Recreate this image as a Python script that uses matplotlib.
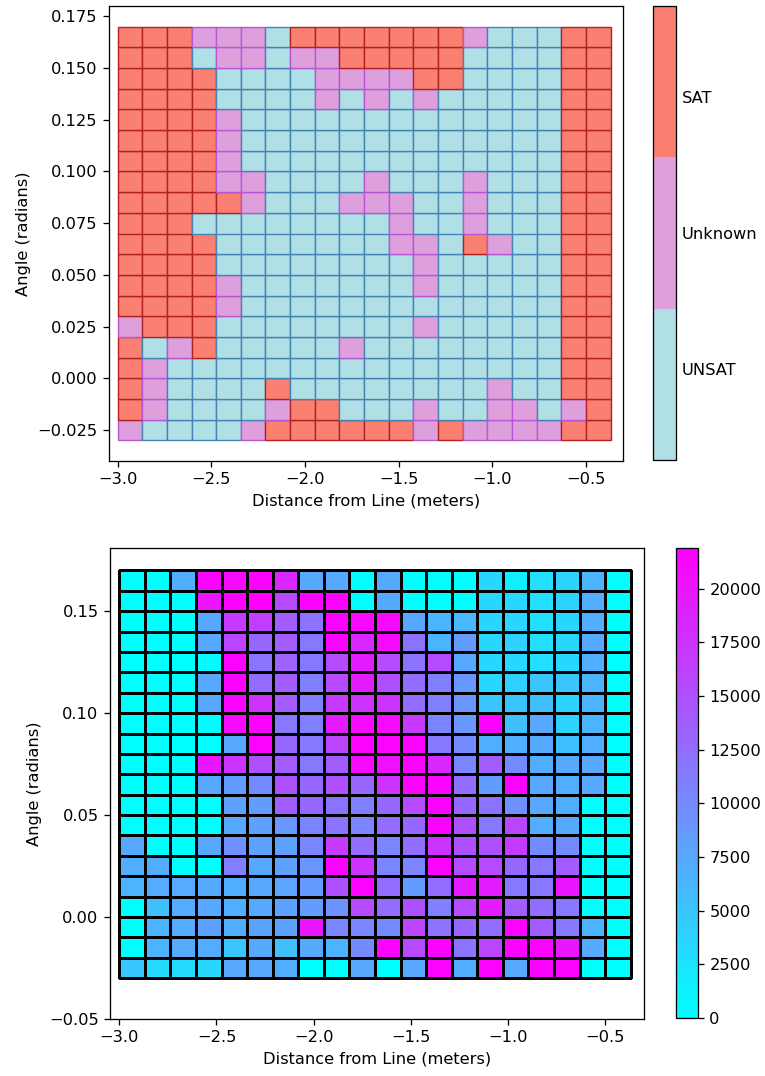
import numpy as np
import matplotlib
matplotlib.use("Agg")
import matplotlib.pyplot as plt
from matplotlib.colors import ListedColormap, Normalize
from matplotlib.cm import ScalarMappable

# reference looks rendered ~1.17x larger than default
k = 1.17
plt.rcParams.update({
    "font.size": 10 * k,
    "axes.linewidth": 0.8 * k,
    "xtick.major.size": 3.5 * k, "ytick.major.size": 3.5 * k,
    "xtick.major.width": 0.8 * k, "ytick.major.width": 0.8 * k,
    "xtick.major.pad": 3.5 * k, "ytick.major.pad": 3.5 * k,
    "axes.labelpad": 4.0 * k,
})

# cell left edges (distance) and bottom edges (angle)
distances = np.linspace(-3.0, -0.5, 20)
angles = np.linspace(-0.03, 0.16, 20)

# status grid, top row first: S = SAT, U = Unknown, N = UNSAT
status_rows = [
    "SSSUUUNSSSSSSSUNNNSS",
    "SSSNUUNUUSSSSSNNNNSS",
    "SSSSNNNNUUUUSSNNNNSS",
    "SSSSNNNNUNUNUNNNNNSS",
    "SSSSUNNNNNNNNNNNNNSS",
    "SSSSUNNNNNNNNNNNNNSS",
    "SSSSUNNNNNNNNNNNNNSS",
    "SSSSUUNNNNUNNNUNNNSS",
    "SSSSSUNNNUUUNNUNNNSS",
    "SSSNNNNNNNNUNNUNNNSS",
    "SSSSNNNNNNNUUNSUNNSS",
    "SSSSNNNNNNNNUNNNNNSS",
    "SSSSUNNNNNNNUNNNNNSS",
    "SSSSUNNNNNNNNNNNNNSS",
    "USSSNNNNNNNNUNNNNNSS",
    "SNUSNNNNNUNNNNNNNNSS",
    "SUNNNNNNNNNNNNNNNNSS",
    "SUNNNNSNNNNNNNNUNNSS",
    "SUNNNNUSSNNNUNNUUNUS",
    "UNNNNUSSSSSSUSUUUUSS",
]
status_names = ["UNSAT", "Unknown", "SAT"]
status_code = {"N": 0, "U": 1, "S": 2}
face_colors = ["powderblue", "plum", "salmon"]
edge_colors = ["steelblue", "mediumorchid", "firebrick"]

# counts grid, top row first
counts = [
    [0, 0, 7000, 21500, 21000, 21500, 18500, 7500, 7500, 0, 7500, 0, 0, 0, 3500, 1500, 2800, 3800, 6500, 0],
    [0, 0, 0, 20000, 21500, 21900, 15500, 21500, 21500, 0, 7500, 0, 0, 0, 3500, 3500, 2800, 3800, 7000, 0],
    [0, 0, 0, 7500, 17000, 16500, 14000, 12000, 21500, 21000, 21000, 7500, 6500, 6000, 3500, 3500, 2800, 3500, 7000, 0],
    [0, 0, 0, 7500, 16000, 13000, 14000, 11500, 21500, 18500, 21000, 12000, 6500, 8500, 3500, 4000, 2800, 3500, 7500, 0],
    [0, 0, 0, 500, 21500, 12000, 13500, 11500, 15500, 19500, 15500, 12000, 15500, 7500, 3500, 3500, 2800, 3500, 7000, 0],
    [0, 0, 0, 7500, 21500, 12500, 14000, 11000, 15500, 19500, 15000, 12500, 11000, 9000, 3500, 4000, 5000, 5000, 6500, 0],
    [0, 0, 0, 7500, 21500, 17500, 14000, 11000, 17000, 17500, 17500, 12500, 11000, 9000, 5000, 5000, 5500, 3800, 6500, 0],
    [0, 0, 0, 500, 21000, 21500, 11500, 11000, 19500, 21000, 21000, 17000, 10500, 9000, 21500, 5500, 7500, 3800, 6500, 0],
    [0, 0, 0, 0, 7500, 21500, 13000, 11500, 16000, 21500, 21500, 21500, 11500, 10000, 7000, 7000, 7500, 5500, 7000, 0],
    [0, 0, 0, 20000, 17500, 15000, 14000, 11500, 14000, 21000, 20500, 21500, 18500, 10500, 14000, 10000, 7000, 7500, 7500, 0],
    [0, 0, 0, 7500, 8500, 10000, 15000, 13000, 15000, 13000, 17500, 21500, 21500, 12500, 8500, 21500, 7500, 7000, 7500, 0],
    [0, 0, 0, 0, 8000, 8500, 14000, 13000, 12000, 11000, 13000, 15500, 21500, 13000, 12000, 9500, 7500, 7000, 0, 0],
    [0, 0, 0, 0, 7500, 8000, 9000, 10500, 12000, 10500, 12500, 13000, 21500, 15000, 11500, 16000, 7000, 7500, 0, 0],
    [7500, 0, 0, 7500, 9500, 8000, 8000, 10500, 17000, 12500, 10500, 12500, 17500, 15000, 15000, 17000, 10000, 10000, 0, 0],
    [7000, 7000, 0, 0, 11000, 7500, 8000, 9000, 21500, 17500, 10500, 10500, 21500, 15500, 15500, 13000, 11500, 14000, 0, 0],
    [6500, 7200, 7200, 7500, 7000, 7500, 7800, 8500, 15000, 21500, 12500, 8500, 12500, 19500, 19500, 11500, 11500, 20000, 0, 0],
    [0, 5500, 7200, 7500, 7000, 7500, 8000, 8500, 9500, 15500, 12500, 15000, 11000, 15500, 19500, 14000, 12500, 11500, 0, 0],
    [0, 6500, 7200, 8000, 7000, 8000, 8000, 20000, 10500, 10500, 10000, 16000, 12000, 13000, 12500, 21500, 14000, 11500, 6500, 0],
    [0, 6500, 7200, 7000, 5000, 7500, 5500, 7500, 6500, 10000, 21500, 15500, 21500, 12000, 16000, 21500, 21500, 20000, 7500, 0],
    [4800, 3200, 3200, 3500, 7500, 7500, 7000, 0, 0, 7500, 0, 7500, 21500, 7000, 21500, 7500, 21500, 21500, 0, 0],
]

dx = distances[1] - distances[0]
dy = angles[1] - angles[0]
x_edges = np.append(distances, distances[-1] + dx)
y_edges = np.append(angles, angles[-1] + dy)

status = np.array([[status_code[c] for c in row] for row in status_rows])[::-1]
C = np.array(counts, dtype=float)[::-1]

fig = plt.figure(figsize=(7.65, 10.76), dpi=100)
W, H = 765, 1076

def box(l, t, r, b):
    return [l / W, 1 - b / H, (r - l) / W, (b - t) / H]

# top: status map
ax1 = fig.add_axes(box(109, 6, 623, 461))
for i, y in enumerate(angles):
    codes = status[i]
    ax1.bar(distances, dy, width=dx, bottom=y, align="edge",
            color=[face_colors[c] for c in codes],
            edgecolor=[edge_colors[c] for c in codes], linewidth=1.0)
ax1.set_xlim(-3.046, -0.302)
ax1.set_ylim(-0.04, 0.18)
ax1.set_yticks(np.arange(-0.025, 0.176, 0.025))
ax1.set_xlabel("Distance from Line (meters)")
ax1.set_ylabel("Angle (radians)")

cax1 = fig.add_axes(box(653, 6, 676, 460))
cmap1 = ListedColormap(face_colors)
sm = ScalarMappable(norm=Normalize(0, 2), cmap=cmap1)
cb1 = fig.colorbar(sm, cax=cax1, ticks=[0.4, 1.0, 1.6])
cb1.set_ticklabels(status_names)
cb1.ax.tick_params(length=0)

# bottom: counts map
ax2 = fig.add_axes(box(110, 548, 644, 1019))
mesh = ax2.pcolormesh(x_edges, y_edges, C, cmap="cool", edgecolors="k", linewidth=0.9)
ax2.set_xlim(-3.048, -0.30)
ax2.set_ylim(-0.05, 0.181)
ax2.set_xlabel("Distance from Line (meters)")
ax2.set_ylabel("Angle (radians)")

cax2 = fig.add_axes(box(676, 548, 698, 1018))
fig.colorbar(mesh, cax=cax2)

fig.savefig("out.png", dpi=100)
